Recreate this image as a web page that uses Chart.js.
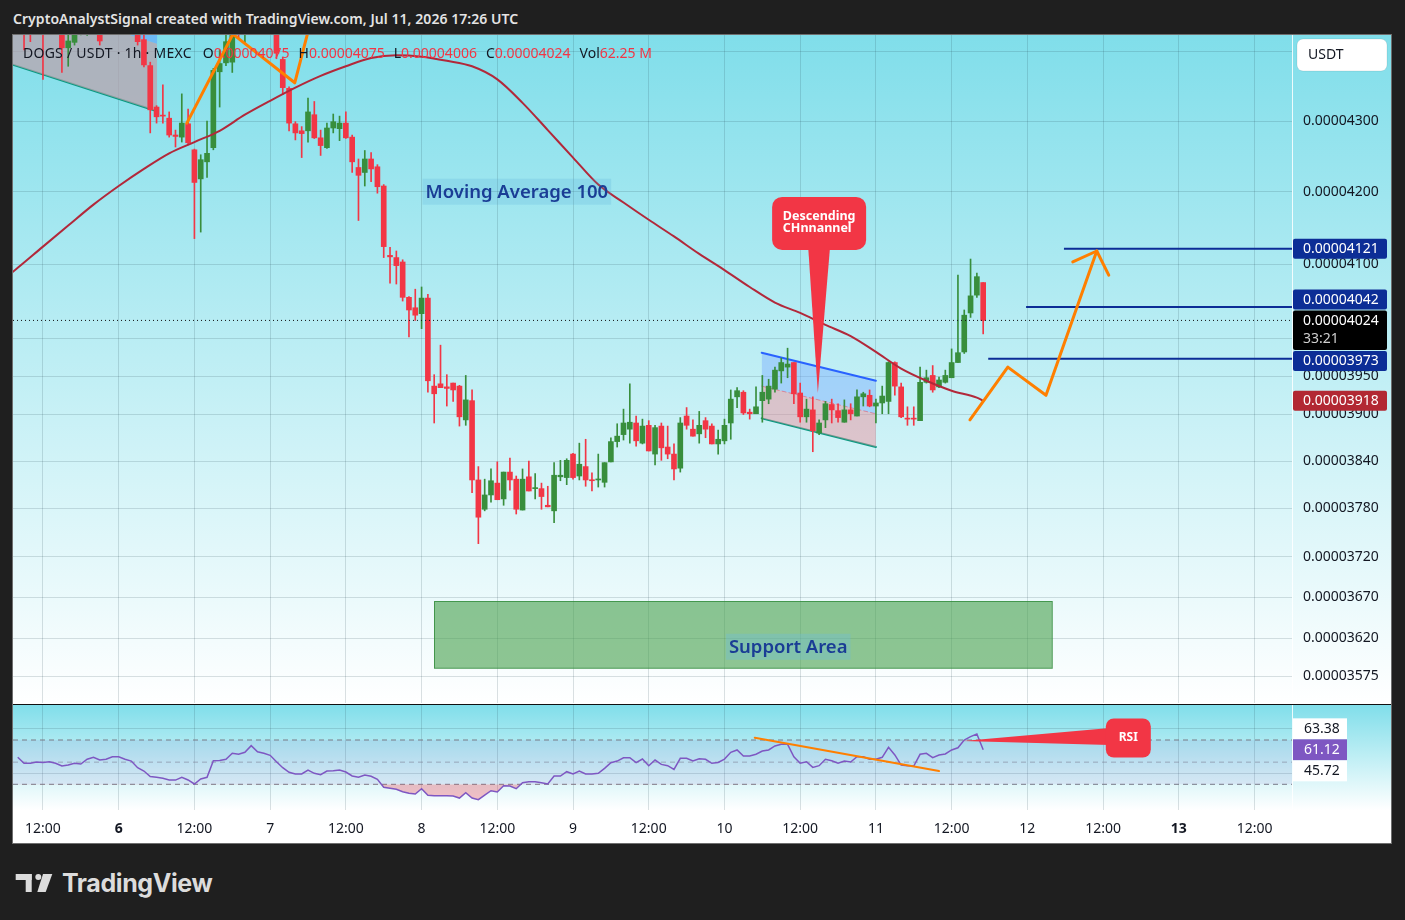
<!DOCTYPE html>
<html>
<head>
<meta charset="utf-8">
<title>DOGS / USDT 1h</title>
<script src="https://cdn.jsdelivr.net/npm/chart.js@4.4.1/dist/chart.umd.min.js"></script>
<style>
  html, body { margin: 0; padding: 0; background: #1f1f1f; }
  body { width: 1405px; height: 920px; position: relative; overflow: hidden; font-family: 'Noto Sans', sans-serif; }
  #title { position: absolute; left: 13px; top: 9px; color: #e4e4e4; font-size: 14px; font-weight: 600; white-space: nowrap; letter-spacing: 0.05px; }
  #frame { position: absolute; left: 12px; top: 34px; width: 1378px; height: 808px; border: 1px solid #6e6e6e; background: #fff; }
  #price { position: absolute; left: 0; top: 0; }
  #sep { position: absolute; left: 0; top: 669px; width: 1378px; height: 1px; background: #111; }
  #rsi { position: absolute; left: 0; top: 670px; }
  #legend { position: absolute; left: 10px; top: 8px; font-size: 14px; color: #131722; white-space: nowrap; }
  #legend .sym { letter-spacing: 0.25px; margin-right: 2px; }
  #legend .k { margin-left: 9px; }
  #legend .v { color: #f23645; }
  #logo { position: absolute; left: 15px; top: 870px; height: 26px; display: flex; align-items: center; color: #dcdcdc; }
  #logo span { font-family: Inter, 'Noto Sans', sans-serif; font-weight: 700; font-size: 25px; margin-left: 9px; letter-spacing: -0.4px; }
</style>
</head>
<body>
<div id="title">CryptoAnalystSignal created with TradingView.com, Jul 11, 2026 17:26 UTC</div>
<div id="frame">
  <canvas id="price" width="1378" height="669"></canvas>
  <div id="legend"></div>
  <div id="sep"></div>
  <canvas id="rsi" width="1378" height="138"></canvas>
</div>
<div id="logo">
  <svg width="38" height="20" viewBox="0 0 38 20">
    <rect x="0.7" y="1" width="16" height="6" fill="#dcdcdc"/>
    <rect x="10.7" y="1" width="6" height="18" fill="#dcdcdc"/>
    <circle cx="23.3" cy="4" r="3" fill="#dcdcdc"/>
    <polygon points="28,1 37.3,1 30.7,19 22.3,19" fill="#dcdcdc"/>
  </svg>
  <span>TradingView</span>
</div>
<script>
// prices are in units of 1e-8 USDT, hours are counted from Jul 5 00:00 UTC
const PRICE_UNIT = 1e-8;
const firstHour = 8;

const opens = [
  4460, 4460, 4450, 4435, 4455, 4430, 4440, 4428, 4406, 4414,
  4430, 4426, 4445, 4445, 4430, 4448, 4460, 4455, 4450, 4440,
  4418, 4380, 4320, 4308, 4304, 4280, 4277, 4296, 4259, 4218,
  4242, 4262, 4371, 4384, 4385, 4445, 4430, 4450, 4460, 4470,
  4460, 4450, 4389, 4347, 4296, 4286, 4286, 4309, 4276, 4262,
  4290, 4289, 4297, 4277, 4234, 4227, 4246, 4235, 4208, 4112,
  4109, 4103, 4055, 4041, 4033, 4054, 3937, 3940, 3936, 3941,
  3937, 3893, 3918, 3816, 3779, 3797, 3812, 3792, 3826, 3817,
  3778, 3820, 3805, 3805, 3784, 3777, 3820, 3819, 3849, 3821,
  3833, 3816, 3816, 3813, 3839, 3865, 3874, 3881, 3889, 3863,
  3886, 3849, 3885, 3858, 3849, 3831, 3898, 3881, 3875, 3892,
  3885, 3862, 3866, 3889, 3923, 3929, 3903, 3901, 3918, 3920,
  3933, 3957, 3962, 3968, 3928, 3897, 3906, 3876, 3893, 3913,
  3905, 3890, 3906, 3898, 3923, 3925, 3911, 3915, 3917, 3968,
  3936, 3895, 3895, 3892, 3942, 3951, 3936, 3942, 3948, 3968,
  3982, 4034, 4058, 4075
];
const highs = [
  4470, 4475, 4465, 4460, 4470, 4450, 4455, 4445, 4430, 4440,
  4450, 4455, 4460, 4455, 4455, 4470, 4475, 4468, 4460, 4450,
  4428, 4385, 4322, 4352, 4313, 4287, 4339, 4317, 4260, 4252,
  4300, 4376, 4403, 4435, 4460, 4455, 4460, 4470, 4480, 4485,
  4475, 4460, 4392, 4349, 4299, 4292, 4333, 4328, 4287, 4297,
  4310, 4307, 4313, 4280, 4246, 4258, 4255, 4238, 4210, 4123,
  4118, 4106, 4056, 4066, 4069, 4059, 3952, 3991, 3952, 3941,
  3938, 3951, 3932, 3833, 3817, 3830, 3839, 3826, 3844, 3821,
  3830, 3840, 3824, 3812, 3808, 3838, 3841, 3843, 3850, 3863,
  3868, 3825, 3849, 3838, 3870, 3888, 3907, 3940, 3898, 3894,
  3892, 3886, 3889, 3885, 3862, 3896, 3909, 3893, 3904, 3896,
  3888, 3880, 3894, 3932, 3935, 3931, 3907, 3936, 3951, 3946,
  3962, 3974, 3987, 3968, 3941, 3920, 3923, 3893, 3917, 3920,
  3914, 3919, 3914, 3932, 3929, 3932, 3920, 3937, 3969, 3969,
  3941, 3910, 3910, 3962, 3958, 3964, 3949, 3958, 3986, 4085,
  4038, 4107, 4088, 4075
];
const lows = [
  4440, 4403, 4415, 4427, 4360, 4428, 4430, 4370, 4379, 4410,
  4425, 4424, 4435, 4410, 4427, 4440, 4445, 4440, 4432, 4410,
  4378, 4283, 4297, 4297, 4277, 4263, 4270, 4266, 4135, 4144,
  4220, 4259, 4320, 4380, 4370, 4420, 4411, 4435, 4445, 4450,
  4440, 4390, 4338, 4286, 4273, 4248, 4270, 4275, 4251, 4261,
  4283, 4272, 4275, 4227, 4160, 4208, 4214, 4198, 4109, 4074,
  4073, 4050, 4002, 4024, 4013, 3929, 3889, 3935, 3911, 3917,
  3885, 3886, 3800, 3736, 3777, 3788, 3791, 3784, 3803, 3773,
  3778, 3802, 3792, 3779, 3782, 3762, 3815, 3810, 3817, 3816,
  3808, 3802, 3807, 3807, 3839, 3858, 3867, 3863, 3859, 3862,
  3853, 3835, 3841, 3843, 3816, 3826, 3881, 3872, 3863, 3870,
  3862, 3849, 3862, 3868, 3909, 3900, 3894, 3901, 3890, 3914,
  3929, 3941, 3948, 3914, 3890, 3890, 3852, 3874, 3883, 3889,
  3890, 3890, 3893, 3898, 3911, 3910, 3889, 3901, 3901, 3925,
  3896, 3886, 3886, 3892, 3941, 3929, 3935, 3941, 3948, 3968,
  3980, 4028, 4055, 4006
];
const closes = [
  4445, 4440, 4435, 4450, 4430, 4440, 4435, 4406, 4416, 4430,
  4440, 4445, 4450, 4416, 4448, 4460, 4455, 4450, 4440, 4415,
  4381, 4316, 4306, 4307, 4280, 4278, 4297, 4269, 4213, 4245,
  4254, 4373, 4383, 4415, 4445, 4427, 4450, 4460, 4470, 4460,
  4450, 4398, 4348, 4297, 4283, 4282, 4313, 4276, 4265, 4290,
  4299, 4297, 4276, 4242, 4223, 4246, 4232, 4207, 4124, 4110,
  4098, 4055, 4038, 4031, 4054, 3944, 3927, 3935, 3934, 3932,
  3897, 3919, 3816, 3769, 3797, 3815, 3791, 3826, 3816, 3779,
  3817, 3802, 3806, 3795, 3782, 3822, 3822, 3841, 3819, 3836,
  3816, 3815, 3817, 3838, 3865, 3872, 3889, 3890, 3866, 3885,
  3853, 3883, 3857, 3849, 3830, 3889, 3886, 3872, 3886, 3881,
  3862, 3868, 3886, 3920, 3931, 3902, 3901, 3910, 3929, 3937,
  3958, 3968, 3966, 3927, 3897, 3907, 3879, 3889, 3914, 3906,
  3896, 3906, 3901, 3923, 3927, 3911, 3915, 3924, 3968, 3937,
  3897, 3894, 3894, 3942, 3948, 3932, 3945, 3951, 3968, 3981,
  4031, 4057, 4083, 4024
];
const lastVolume = '62.25 M';
const countdown = '33:21';

// moving average 100, sampled every 4 hours
const maHours = [7, 8, 12, 16, 20, 24, 28, 32, 36, 40, 44, 48, 52, 56, 60, 64, 68, 72, 76, 80, 84,
  88, 92, 96, 100, 104, 108, 112, 116, 120, 124, 128, 132, 136, 140, 144, 148, 152, 156, 160, 161];
const ma100 = [4088, 4095, 4124, 4153, 4182, 4208, 4232, 4254, 4270, 4286, 4309, 4329, 4348, 4365, 4379, 4391, 4395, 4393, 4387, 4379, 4360,
  4326, 4287, 4248, 4210, 4185, 4161, 4138, 4114, 4092, 4069, 4048, 4034, 4018, 4003, 3982, 3960, 3944, 3931, 3922, 3918];

// RSI(14), one value per candle
const rsi = [
  54.4, 49, 49, 50.1, 49.7, 50.4, 49, 46.5, 47.4, 49,
  48.3, 52.6, 54.4, 51.9, 52.6, 54.9, 54.9, 52.6, 51, 45,
  42, 37, 36.3, 35.4, 33.9, 33.8, 36.3, 33.9, 30.3, 34.8,
  36.3, 51.3, 51.6, 52.6, 58, 57.1, 58.9, 64.9, 59.4, 58,
  56.2, 50.4, 45, 40.8, 39.3, 39.3, 42.9, 39.9, 38.7, 42,
  42.3, 42.9, 41.1, 37.5, 36.3, 38.4, 37.2, 34.5, 27.3, 26.4,
  25.5, 23.3, 21.9, 21.2, 26, 20.1, 19.7, 19.7, 19.7, 19.4,
  17.6, 22.4, 17.6, 16.1, 20.3, 24.2, 23, 28.7, 28.5, 26,
  31.5, 32.4, 32.4, 31.5, 30.3, 37.5, 37.5, 41.4, 39.3, 42,
  39.3, 39.3, 39.9, 44.4, 49.5, 51, 54, 54, 49.5, 52.8,
  46.8, 51.9, 48, 46.8, 43.5, 53.5, 53.5, 51, 53.1, 52.6,
  49, 49.7, 52.8, 58.9, 61, 55.6, 55.6, 57.1, 60.1, 61,
  64.6, 66.1, 66.1, 54.9, 49, 50.4, 45.3, 46.8, 52.6, 51.3,
  49, 51, 50.1, 54.9, 54.9, 52.6, 52.6, 54.4, 63.4, 56.5,
  47.4, 46.8, 46.5, 57.1, 58, 54, 56.5, 57.4, 61, 63,
  70, 73, 75.4, 61.12
];
const rsiSideValues = [63.38, 45.72];
const rsiLevels = [70, 50, 30];

const timeTicks = [12, 24, 36, 48, 60, 72, 84, 96, 108, 120, 132, 144, 156, 168, 180, 192, 204];
const timeLabels = ['12:00', '6', '12:00', '7', '12:00', '8', '12:00', '9', '12:00', '10', '12:00', '11', '12:00', '12', '12:00', '13', '12:00'];
const boldTimeTicks = [24, 192];
const priceTicks = [3575, 3620, 3670, 3720, 3780, 3840, 3900, 3950, 4000, 4100, 4200, 4300, 4400];

// drawings, in [hour, price] or [hour, rsi]
const zigzagLeft = [[34.8, 4297], [42.1, 4426], [51.9, 4355], [54.9, 4462]];
const zigzagRight = [[158.9, 3893], [164.9, 3962], [170.95, 3925], [179.0, 4118]];
const arrowHead = [[175.2, 4103], [179.0, 4118], [180.9, 4085]];
const levels = [{ price: 4121, from: 173.8 }, { price: 4042, from: 167.8 }, { price: 3973, from: 161.8 }];
const channelUpper = [[125.9, 3981], [144.0, 3944]];
const channelMid = [[125.9, 3937], [144.0, 3901]];
const channelLower = [[125.9, 3895], [144.0, 3858]];
const oldChannelUpper = [[6, 4544], [30.1, 4471]];
const oldChannelMid = [[6, 4484], [30.1, 4412]];
const oldChannelLower = [[6, 4385], [30.1, 4314]];
const supportZone = { from: 74, to: 171.9, top: 3665, bottom: 3584.5 };
const supportLabel = { hour: 130.1, price: 3610, text: 'Support Area' };
const maLabel = { hour: 87.1, price: 4200, text: 'Moving Average 100' };
const channelCallout = { tipHour: 134.8, tipPrice: 3928, hour: 135, price: 4156, lines: ['Descending', 'CHnnannel'] };
const rsiDivergence = [[124.8, 72.1], [154.0, 42]];
const rsiCallout = { tipHour: 157.8, tipRsi: 69.1, hour: 184, rsi: 71.8, text: 'RSI' };

const X_MIN = 7.25, X_MAX = 209.94;
const PRICE_MIN = 3543.1, PRICE_MAX = 4424.8;
const RSI_MIN = 6.8, RSI_MAX = 101.6;

const GREEN = '#388e3c', RED = '#f23645', ORANGE = '#ff7f00', NAVY = '#0c2d96';
const GRID = 'rgba(30,60,75,0.16)';
const FONT = '"Noto Sans"';

Chart.defaults.font.family = 'Noto Sans';

const fmtPrice = v => (v * PRICE_UNIT).toFixed(8);
const pts = arr => arr.map(([x, y]) => ({ x, y }));
const last = arr => arr[arr.length - 1];

// legend line
const legend = document.getElementById('legend');
legend.innerHTML = '<span class="sym">DOGS / USDT · 1h · MEXC</span>' +
  [['O', last(opens)], ['H', last(highs)], ['L', last(lows)], ['C', last(closes)]]
    .map(([k, v]) => `<span class="k">${k}</span><span class="v">${fmtPrice(v)}</span>`).join('') +
  `<span class="k">Vol</span><span class="v">${lastVolume}</span>`;

function roundRect(ctx, x, y, w, h, r) {
  ctx.beginPath();
  ctx.moveTo(x + r, y);
  ctx.arcTo(x + w, y, x + w, y + h, r);
  ctx.arcTo(x + w, y + h, x, y + h, r);
  ctx.arcTo(x, y + h, x, y, r);
  ctx.arcTo(x, y, x + w, y, r);
  ctx.closePath();
}

function paneBackground(id, gradientHeight) {
  return {
    id,
    beforeDraw(chart) {
      const { ctx, width, height } = chart;
      const h = gradientHeight || height;
      const g = ctx.createLinearGradient(0, 0, 0, h);
      g.addColorStop(0, '#80deea');
      g.addColorStop(1, '#ffffff');
      ctx.save();
      ctx.fillStyle = '#ffffff';
      ctx.fillRect(0, 0, width, height);
      ctx.fillStyle = g;
      ctx.fillRect(0, 0, width, h);
      ctx.restore();
    }
  };
}

const drawings = {
  id: 'drawings',
  beforeDatasetsDraw(chart) {
    const { ctx, chartArea: a, scales: { x, y } } = chart;
    const x1 = x.getPixelForValue(supportZone.from), x2 = x.getPixelForValue(supportZone.to);
    const y1 = y.getPixelForValue(supportZone.top), y2 = y.getPixelForValue(supportZone.bottom);
    ctx.save();
    ctx.beginPath();
    ctx.rect(a.left, a.top, a.width, a.height);
    ctx.clip();
    ctx.fillStyle = 'rgba(70,160,75,0.6)';
    ctx.fillRect(x1, y1, x2 - x1, y2 - y1);
    ctx.strokeStyle = 'rgba(50,140,60,0.85)';
    ctx.lineWidth = 1;
    ctx.strokeRect(Math.round(x1) + 0.5, Math.round(y1) + 0.5, x2 - x1, y2 - y1);
    ctx.restore();
  },
  afterDatasetsDraw(chart) {
    const { ctx, scales: { x, y } } = chart;
    ctx.save();
    ctx.textBaseline = 'middle';

    // text labels with a faint box
    const label = (item, bg) => {
      const cx = x.getPixelForValue(item.hour), cy = y.getPixelForValue(item.price);
      ctx.font = `600 18.5px ${FONT}`;
      const w = ctx.measureText(item.text).width;
      ctx.fillStyle = bg;
      ctx.fillRect(cx - w / 2 - 3, cy - 13, w + 6, 26);
      ctx.fillStyle = '#1a3d95';
      ctx.textAlign = 'center';
      ctx.fillText(item.text, cx, cy + 1);
    };
    label(maLabel, 'rgba(70,160,210,0.18)');
    label(supportLabel, 'rgba(110,190,220,0.35)');

    // descending channel callout
    const c = channelCallout;
    const bx = x.getPixelForValue(c.hour), by = y.getPixelForValue(c.price);
    const tx = x.getPixelForValue(c.tipHour), ty = y.getPixelForValue(c.tipPrice);
    const bw = 94, bh = 53;
    ctx.fillStyle = RED;
    ctx.beginPath();
    ctx.moveTo(bx - 11, by + bh / 2 - 4);
    ctx.lineTo(bx + 11, by + bh / 2 - 4);
    ctx.lineTo(tx, ty);
    ctx.closePath();
    ctx.fill();
    roundRect(ctx, bx - bw / 2, by - bh / 2, bw, bh, 10);
    ctx.fill();
    ctx.fillStyle = '#ffffff';
    ctx.font = `700 12.5px ${FONT}`;
    ctx.textAlign = 'left';
    const w0 = ctx.measureText(c.lines[0]).width;
    ctx.fillText(c.lines[0], bx - w0 / 2, by - 7);
    ctx.fillText(c.lines[1], bx - w0 / 2, by + 5);
    ctx.restore();
  }
};

const priceAxisTags = {
  id: 'priceAxisTags',
  afterDraw(chart) {
    const { ctx, chartArea: a, scales: { y } } = chart;
    const left = a.right + 1, bw = 94;
    ctx.save();
    ctx.font = `14px ${FONT}`;
    ctx.textBaseline = 'middle';
    ctx.textAlign = 'left';
    const lastY = y.getPixelForValue(last(closes));
    const blackTop = lastY - 10, blackBottom = lastY + 29.5;
    const tag = (cy, bg, txt) => {
      roundRect(ctx, left, cy - 10, bw, 20, 2);
      ctx.fillStyle = bg;
      ctx.fill();
      ctx.fillStyle = '#ffffff';
      ctx.fillText(txt, left + 10, cy + 0.5);
    };
    levels.forEach(l => {
      let cy = y.getPixelForValue(l.price);
      if (cy <= lastY && cy + 10 > blackTop) cy = blackTop - 11;
      if (cy > lastY && cy - 10 < blackBottom) cy = blackBottom + 11;
      tag(cy, NAVY, fmtPrice(l.price));
    });
    tag(y.getPixelForValue(last(ma100)), '#b22833', fmtPrice(last(ma100)));

    roundRect(ctx, left, blackTop, bw, blackBottom - blackTop, 2);
    ctx.fillStyle = '#000000';
    ctx.fill();
    ctx.fillStyle = '#ffffff';
    ctx.fillText(fmtPrice(last(closes)), left + 10, lastY + 0.5);
    ctx.fillStyle = '#cfcfcf';
    ctx.fillText(countdown, left + 10, lastY + 19);

    roundRect(ctx, left + 4, 4, 90, 32, 6);
    ctx.fillStyle = '#ffffff';
    ctx.fill();
    ctx.strokeStyle = 'rgba(0,0,0,0.08)';
    ctx.stroke();
    ctx.fillStyle = '#131722';
    ctx.fillText('USDT', left + 15, 20);
    ctx.restore();
  }
};

const rsiDrawings = {
  id: 'rsiDrawings',
  afterDraw(chart) {
    const { ctx, chartArea: a, scales: { x, y } } = chart;
    ctx.save();
    // callout
    const r = rsiCallout;
    const bx = x.getPixelForValue(r.hour), by = y.getPixelForValue(r.rsi);
    const tx = x.getPixelForValue(r.tipHour), ty = y.getPixelForValue(r.tipRsi);
    const bw = 45, bh = 39;
    ctx.fillStyle = RED;
    ctx.beginPath();
    ctx.moveTo(bx - bw / 2 + 4, by - 10);
    ctx.lineTo(bx - bw / 2 + 4, by + 7);
    ctx.lineTo(tx, ty);
    ctx.closePath();
    ctx.fill();
    roundRect(ctx, bx - bw / 2, by - bh / 2, bw, bh, 8);
    ctx.fill();
    ctx.fillStyle = '#ffffff';
    ctx.font = `700 12px ${FONT}`;
    ctx.textAlign = 'center';
    ctx.textBaseline = 'middle';
    ctx.fillText(r.text, bx, by);

    // value tags on the axis
    const left = a.right + 1, bw2 = 54, bh2 = 21;
    const cy = y.getPixelForValue(last(rsi));
    ctx.font = `14px ${FONT}`;
    ctx.textAlign = 'left';
    const tag = (c, bg, fg, v) => {
      ctx.fillStyle = bg;
      ctx.fillRect(left, c - bh2 / 2, bw2, bh2);
      ctx.fillStyle = fg;
      ctx.fillText(v.toFixed(2), left + 11, c + 0.5);
    };
    tag(cy - bh2, '#ffffff', '#131722', rsiSideValues[0]);
    tag(cy, '#7e57c2', '#ffffff', last(rsi));
    tag(cy + bh2, '#ffffff', '#131722', rsiSideValues[1]);
    ctx.restore();
  }
};

const candleHours = opens.map((_, i) => firstHour + i);
const candleColors = closes.map((c, i) => (c >= opens[i] ? GREEN : RED));
const lastClose = last(closes);

const lineDs = (data, color, width, order, extra) => Object.assign({
  type: 'line', data: pts(data), borderColor: color, borderWidth: width,
  pointRadius: 0, fill: false, order, borderJoinStyle: 'round', borderCapStyle: 'round'
}, extra || {});

const xTicksHook = s => { s.ticks = timeTicks.map(v => ({ value: v })); };

new Chart(document.getElementById('price'), {
  type: 'bar',
  data: {
    datasets: [
      lineDs(zigzagLeft, ORANGE, 3, 0),
      lineDs(zigzagRight, ORANGE, 3, 0),
      lineDs(arrowHead, ORANGE, 3, 0),
      ...levels.map(l => lineDs([[l.from, l.price], [X_MAX, l.price]], NAVY, 2, 1, { borderCapStyle: 'butt' })),
      lineDs([[X_MIN, lastClose], [X_MAX, lastClose]], '#111111', 1, 2, { borderDash: [1, 3], borderCapStyle: 'butt' }),
      {
        type: 'line', data: maHours.map((h, i) => ({ x: h, y: ma100[i] })),
        borderColor: '#b2283a', borderWidth: 2, cubicInterpolationMode: 'monotone', pointRadius: 0, fill: false, order: 2
      },
      {
        type: 'bar', data: candleHours.map((h, i) => ({ x: h, y: [opens[i], closes[i]] })),
        backgroundColor: candleColors, barThickness: 5, minBarLength: 1, grouped: false, order: 3
      },
      {
        type: 'bar', data: candleHours.map((h, i) => ({ x: h, y: [lows[i], highs[i]] })),
        backgroundColor: candleColors, barThickness: 1, grouped: false, order: 4
      },
      lineDs(channelUpper, '#2962ff', 2, 5, { fill: '+1', backgroundColor: 'rgba(120,170,255,0.42)' }),
      lineDs(channelMid, 'rgba(242,54,69,0.55)', 1, 5, { fill: '+1', backgroundColor: 'rgba(240,140,150,0.45)', borderDash: [4, 3] }),
      lineDs(channelLower, '#089981', 2, 5),
      lineDs(oldChannelUpper, 'rgba(0,0,0,0)', 1, 6, { fill: '+1', backgroundColor: 'rgba(90,150,255,0.5)' }),
      lineDs(oldChannelMid, 'rgba(0,0,0,0)', 1, 6, { fill: '+1', backgroundColor: 'rgba(190,160,170,0.7)' }),
      lineDs(oldChannelLower, '#089981', 2, 6)
    ]
  },
  options: {
    responsive: false,
    animation: false,
    events: [],
    layout: { padding: 0 },
    plugins: { legend: { display: false }, tooltip: { enabled: false } },
    scales: {
      x: {
        type: 'linear', min: X_MIN, max: X_MAX, offset: false,
        grid: { color: GRID, drawTicks: false, offset: false },
        border: { display: false },
        ticks: { display: false },
        afterBuildTicks: xTicksHook,
        afterFit: s => { s.height = 1; s.paddingLeft = 0; s.paddingRight = 0; }
      },
      y: {
        type: 'logarithmic', position: 'right', min: PRICE_MIN, max: PRICE_MAX,
        grid: { color: GRID, drawTicks: false },
        border: { display: true, color: 'rgba(255,255,255,0.85)' },
        ticks: { padding: 11, color: '#131722', autoSkip: false, font: { size: 14 }, callback: v => fmtPrice(v) },
        afterBuildTicks: s => { s.ticks = priceTicks.map(v => ({ value: v })); },
        afterFit: s => { s.width = 99; s.paddingTop = 0; s.paddingBottom = 0; }
      }
    }
  },
  plugins: [paneBackground('priceBg'), drawings, priceAxisTags]
});

const rsiDatasets = [
  {
    type: 'line', data: candleHours.map((h, i) => ({ x: h, y: rsi[i] })),
    borderColor: '#7e57c2', borderWidth: 1.5, pointRadius: 0, order: 1,
    fill: { target: { value: 30 }, above: 'rgba(0,0,0,0)', below: 'rgba(242,54,69,0.3)' }
  },
  lineDs(rsiDivergence, ORANGE, 2, 0),
  lineDs([[X_MIN, rsiLevels[0]], [X_MAX, rsiLevels[0]]], 'rgba(120,123,134,1)', 1, 3,
    { borderDash: [5, 4], borderCapStyle: 'butt', fill: '+1', backgroundColor: 'rgba(126,87,194,0.1)' }),
  lineDs([[X_MIN, rsiLevels[2]], [X_MAX, rsiLevels[2]]], 'rgba(120,123,134,1)', 1, 3, { borderDash: [5, 4], borderCapStyle: 'butt' }),
  lineDs([[X_MIN, rsiLevels[1]], [X_MAX, rsiLevels[1]]], 'rgba(120,123,134,0.55)', 1, 3, { borderDash: [5, 4], borderCapStyle: 'butt' })
];

new Chart(document.getElementById('rsi'), {
  type: 'line',
  data: { datasets: rsiDatasets },
  options: {
    responsive: false,
    animation: false,
    events: [],
    layout: { padding: 0 },
    plugins: { legend: { display: false }, tooltip: { enabled: false } },
    scales: {
      x: {
        type: 'linear', min: X_MIN, max: X_MAX, offset: false,
        grid: { color: GRID, drawTicks: false },
        border: { display: false },
        ticks: {
          padding: 11, color: '#131722', autoSkip: false, maxRotation: 0,
          font: c => ({ size: 14, weight: boldTimeTicks.includes(c.tick && c.tick.value) ? '700' : '400' }),
          callback: v => timeLabels[timeTicks.indexOf(v)]
        },
        afterBuildTicks: xTicksHook,
        afterFit: s => { s.height = 33; s.paddingLeft = 0; s.paddingRight = 0; }
      },
      y: {
        type: 'linear', position: 'right', min: RSI_MIN, max: RSI_MAX,
        grid: { color: GRID, drawTicks: false },
        border: { display: true, color: 'rgba(255,255,255,0.85)' },
        ticks: { display: false },
        afterBuildTicks: s => { s.ticks = [40, 80].map(v => ({ value: v })); },
        afterFit: s => { s.width = 99; s.paddingTop = 0; s.paddingBottom = 0; }
      }
    }
  },
  plugins: [paneBackground('rsiBg', 105), rsiDrawings]
});
</script>
</body>
</html>
